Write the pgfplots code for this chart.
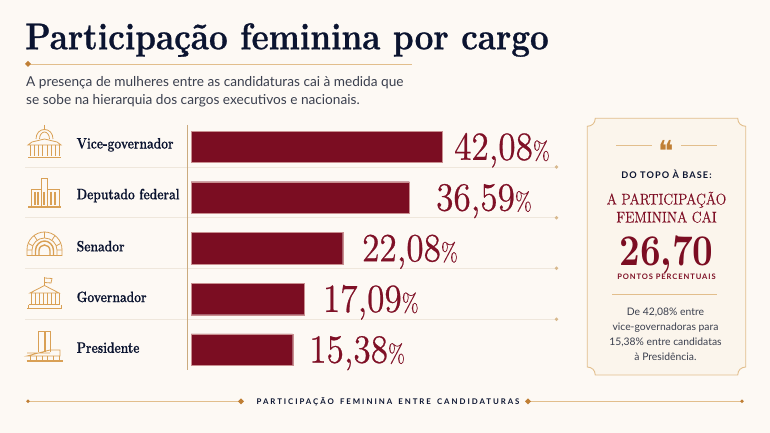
\documentclass[border=0pt]{standalone}
\usepackage{fontspec}
\usepackage{pgfplots}
\usepackage{pgfplotstable}
\pgfplotsset{compat=1.18}
\setmainfont{Lato}
\newfontfamily\titlefont[FakeStretch=0.89,FakeBold=0.8]{lmroman12-bold.otf}
\newfontfamily\labelfont[FakeStretch=0.8,FakeBold=0.5]{lmroman12-bold.otf}
\newfontfamily\numfont[FakeStretch=0.885,FakeBold=0.6]{lmroman12-regular.otf}
\newfontfamily\pctfont[FakeStretch=0.8,FakeBold=0.2]{lmroman12-regular.otf}
\newfontfamily\numboldfont[FakeStretch=0.82]{lmroman10-bold.otf}
\newfontfamily\capfont[FakeStretch=0.9,FakeBold=0.3]{lmroman12-regular.otf}
\newfontfamily\spacedfont[LetterSpace=25,WordSpace=1.6]{Lato Bold}
\newfontfamily\spacedb[LetterSpace=12]{Lato Bold}
\newfontfamily\quotefont{DejaVu Sans}
\definecolor{bg}{HTML}{FDF9F4}
\definecolor{panel}{HTML}{FBF5EC}
\definecolor{tan}{HTML}{E2BE8C}
\definecolor{iconc}{HTML}{D9A055}
\definecolor{orangeb}{HTML}{C07F35}
\definecolor{rule}{HTML}{EFE7DC}
\definecolor{dotc}{HTML}{D8B98E}
\definecolor{navy}{HTML}{0B1430}
\definecolor{wine}{HTML}{7B0D22}
\definecolor{winetxt}{HTML}{7F1026}
\definecolor{barline}{HTML}{C98F90}
\definecolor{body}{HTML}{3A3F4E}
% Values printed on the chart are in "valor". The reference does not draw its
% bars to one scale: "comp" is the length each bar has in the picture, in the
% units of the first two bars, which agree with their printed values.
\pgfplotstableread{
i  valor comp  pos
0  42.08 42.13 44.09
1  36.59 36.59 41.07
2  22.08 25.43 28.67
3  17.09 18.94 22.10
4  15.38 17.05 19.80
}\barras
\pgfplotstableread{
i  valor pos
0  42,08 44.09
1  36,59 41.07
2  22,08 28.67
3  17,09 22.10
4  15,38 19.80
}\rotulos
\newcommand\dia[3]{\fill[#3] (#1-3,#2)--(#1,#2-3)--(#1+3,#2)--(#1,#2+3)--cycle;}
\begin{document}
\begin{tikzpicture}
\path[use as bounding box,fill=bg] (0,0) rectangle (770bp,433bp);
\begin{scope}[x=1bp,y=-1bp,yshift=433bp]
% title
\node[anchor=base west,inner sep=0,text=navy] at (25,49.3) {\titlefont\fontsize{37.5}{37}\selectfont Participação feminina por cargo};
\draw[tan,line width=.8] (28,64)--(412,64);
\dia{28}{64}{orangeb}
\node[anchor=base west,inner sep=0,text=body] at (26,87) {\fontsize{13.7}{16}\selectfont A presença de mulheres entre as candidaturas cai à medida que};
\node[anchor=base west,inner sep=0,text=body] at (26,104.5) {\fontsize{13.7}{16}\selectfont se sobe na hierarquia dos cargos executivos e nacionais.};
% row rules
\foreach \y in {167,217.7,268.3,319.3}{
  \draw[rule,line width=.7] (25,\y)--(556,\y);
  \fill[dotc] (556.5,\y) circle (1.9);
}
\draw[tan!90!black,line width=1] (187.5,125)--(187.5,370);
% icons
\begin{scope}[draw=iconc,line width=.8]
 % capitol
 \draw (44.5,125)--(44.5,130);
 \draw (36,139) .. controls (36,133) and (40,129.5) .. (44.5,129.5) .. controls (49,129.5) and (53,133) .. (53,139);
 \draw (39.5,139) .. controls (39.5,135) and (42,132) .. (44.5,132) .. controls (47,132) and (49.5,135) .. (49.5,139);
 \draw (28,145)--(32,142)--(44.5,139)--(57,142)--(61,145)--cycle;
 \foreach \x in {30,34,38,42,47,51,55,59}{\draw (\x,145)--(\x,156);}
 \draw[line width=1.2] (28,157.5)--(61,157.5);
 % chamber
 \draw (41,207)--(41,178.5)--(47,178.5)--(47,207);
 \draw (41,189)--(31,189)--(31,207);
 \draw (47,189)--(59,189)--(59,207);
 \foreach \x in {35,38,44,51,55}{\draw[line width=1.2] (\x,192)--(\x,205);}
 \draw[line width=1.2] (28,207)--(61,207);
 % arch
 \draw (27,255.5)--(27,249.5) .. controls (27,240) and (35,232) .. (44.5,232) .. controls (54,232) and (62,240) .. (62,249.5)--(62,255.5)--cycle;
 \draw (32,255.5)--(32,250) .. controls (32,243) and (38,238) .. (44.5,238) .. controls (51,238) and (57,243) .. (57,250)--(57,255.5);
 \draw[line width=1.4] (35.5,255.5)--(35.5,250.5) .. controls (35.5,245) and (40,241) .. (44.5,241) .. controls (49,241) and (53.5,245) .. (53.5,250.5)--(53.5,255.5);
 \draw[line width=1.4] (39,255.5)--(39,250.5) .. controls (39,247) and (42,245) .. (44.5,245) .. controls (47,245) and (50,247) .. (50,250.5)--(50,255.5);
 \draw (44.5,232)--(44.5,238) (34,235.5)--(37,240) (55,235.5)--(52,240) (28.5,243.5)--(33,246) (60.5,243.5)--(56,246) (27,250)--(32,250) (57,250)--(62,250);
 % governor
 \draw (44.5,277)--(44.5,286);
 \draw (44.5,278)--(52,278.5)--(51,283)--(44.5,282.5);
 \draw (30,293)--(44.5,285.5)--(59,293)--cycle;
 \foreach \x in {31,35,39,43,47,51,55,59}{\draw (\x,293)--(\x,304);}
 \draw (29,304.5)--(60,304.5);
 \draw (27,308.5)--(62,308.5);
 \draw (28,305)--(28,308);\draw (61,305)--(61,308);
 % congress
 \draw (38.5,352)--(38.5,331)--(44,331)--(44,352);
 \draw (45,352)--(45,331)--(50,331)--(50,352);
 \draw (27,353)--(50,353) (50,350)--(60,350)--(60,356)--(27,356)--cycle;
 \foreach \x in {30,36,42,47,53,59}{\draw (\x,356)--(\x,361);}
 \draw[line width=1.8] (26.5,361)--(62.5,361);
\end{scope}
% panel
\draw[tan,fill=panel,line width=.9]
 (595.3,118.3)--(737.7,118.3) .. controls (738,123.5) and (741,126) .. (745.7,126.3)
 --(745.7,367) .. controls (741,367.3) and (738,370) .. (737.7,375)
 --(595.3,375) .. controls (595,370) and (592,367.3) .. (587.3,367)
 --(587.3,126.3) .. controls (592,126) and (595,123.5) .. (595.3,118.3)--cycle;
\draw[tan,line width=.8] (616,145.5)--(652,145.5) (681,145.5)--(717,145.5);
\node[inner sep=0,text=orangeb,anchor=base] at (666.5,161.5) {\quotefont\fontsize{29}{29}\selectfont ❝};
\node[inner sep=0,text=navy] at (666.5,174) {\spacedb\fontsize{9.2}{10}\selectfont DO TOPO À BASE:};
\node[inner sep=0,text=winetxt,anchor=base] at (666.5,204.5) {\capfont\fontsize{15.5}{16}\selectfont A PARTICIPAÇÃO};
\node[inner sep=0,text=winetxt,anchor=base] at (666.5,222.5) {\capfont\fontsize{15.5}{16}\selectfont FEMININA CAI};
\node[inner sep=0,text=wine,anchor=base] at (666.5,265.5) {\numboldfont\fontsize{44}{44}\selectfont 26,70};
\node[inner sep=0,text=winetxt] at (666.5,276.5) {\spacedb\fontsize{7.6}{10}\selectfont PONTOS PERCENTUAIS};
\draw[tan,line width=.8] (612,294)--(717,294);
\node[inner sep=0,text=body] at (665.5,312) {\fontsize{10.4}{12}\selectfont De 42,08\% entre};
\node[inner sep=0,text=body] at (665.5,327.6) {\fontsize{10.4}{12}\selectfont vice-governadoras para};
\node[inner sep=0,text=body] at (665.5,342) {\fontsize{10.4}{12}\selectfont 15,38\% entre candidatas};
\node[inner sep=0,text=body] at (665.5,356.6) {\fontsize{10.4}{12}\selectfont à Presidência.};
% footer
\draw[tan,line width=.9] (28,401.3)--(241,401.3) (528,401.3)--(742,401.3);
\fill[orangeb] (28,401.3) circle (1.9) (742,401.3) circle (1.9);
\dia{241}{401.3}{orangeb}\dia{528}{401.3}{orangeb}
\node[inner sep=0,text=navy] at (388,401.3) {\spacedfont\fontsize{7.85}{10}\selectfont PARTICIPAÇÃO FEMININA ENTRE CANDIDATURAS};
\end{scope}
% chart
\begin{axis}[
 at={(191bp,311.55bp)},anchor=north west,
 scale only axis,width=366bp,height=253.5bp,
 xmin=0,xmax=61.36,ymin=-0.5,ymax=4.5,y dir=reverse,
 axis line style={draw=none},major tick style={draw=none},
 xticklabels={},xtick=\empty,
 ytick={0,1,2,3,4},
 yticklabels={Vice-governador,Deputado federal,Senador,Governador,Presidente},
 yticklabel style={anchor=west,inner sep=0pt,xshift=-114.5bp,yshift=2bp,text=navy,font=\labelfont\fontsize{15.2}{15}\selectfont},
 clip=false]
\addplot[xbar,bar shift=0pt,bar width=31.5bp,fill=wine,draw=barline,line width=.25pt] table[x=comp,y=i] {\barras};
\addplot[draw=none,mark=none,point meta=explicit symbolic,
 nodes near coords={\numfont\fontsize{40}{40}\selectfont\pgfplotspointmeta{\pctfont\fontsize{26}{26}\selectfont\%}},
 every node near coord/.append style={anchor=base west,inner sep=0pt,yshift=-13bp,text=winetxt}]
 table[x=pos,y=i,meta=valor] {\rotulos};
\end{axis}
\end{tikzpicture}
\end{document}
